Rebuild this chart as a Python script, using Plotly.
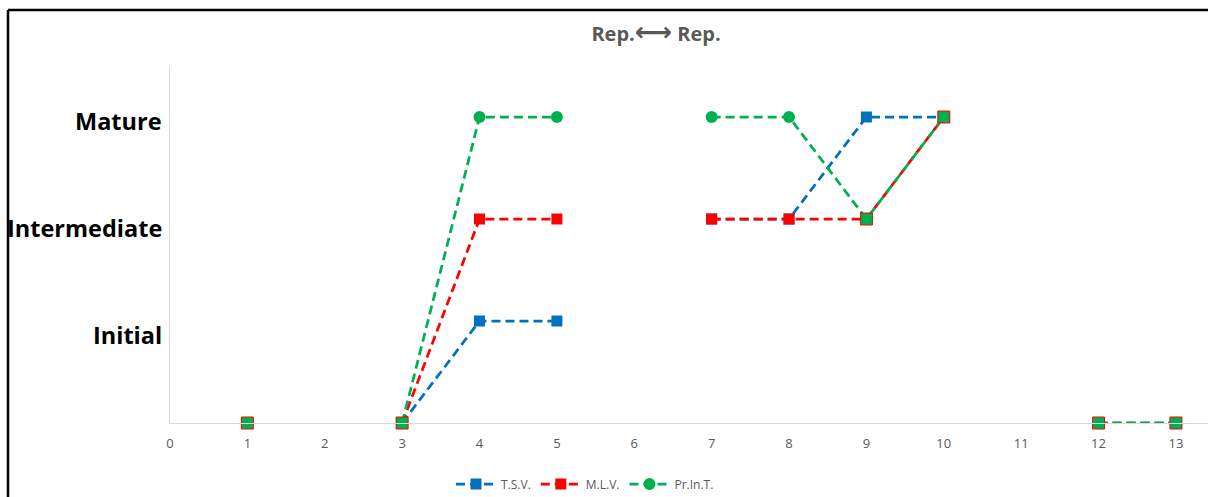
import plotly.graph_objects as go

# Positions 1..13; None marks steps with no observation (line breaks there)
x_vals = [1, 2, 3, 4, 5, 6, 7, 8, 9, 10, 11, 12, 13]
tsv = [0, None, 0, 1, 1, None, 2, 2, 3, 3, None, 0, 0]
mlv = [0, None, 0, 2, 2, None, 2, 2, 2, 3, None, 0, 0]
print_t = [0, None, 0, 3, 3, None, 3, 3, 2, 3, None, 0, 0]

level_vals = [1, 2, 3]
level_names = ["Initial", "Intermediate", "Mature"]
level_label_shift = [-14, -9, -4]   # pixel nudge of the level labels
x_ticks = list(range(0, 14))

BLUE = "#0070C0"
RED = "#FF0000"
GREEN = "#00B050"
DASH = "9px,5px"

W, H = 1208, 497
L, R, T, B = 170, 0, 66, 74
pw, ph = W - L - R, H - T - B


def px_to_paper(px, py):
    return (px - L) / pw, (H - B - py) / ph


fig = go.Figure()

fig.add_trace(go.Scatter(
    x=x_vals, y=tsv, name="T.S.V.", mode="lines+markers",
    line=dict(color=BLUE, width=2.75, dash=DASH),
    marker=dict(symbol="square", size=11, color=BLUE),
    connectgaps=False, cliponaxis=False,
))
fig.add_trace(go.Scatter(
    x=x_vals, y=mlv, name="M.L.V.", mode="lines+markers",
    line=dict(color=RED, width=2.75, dash=DASH),
    marker=dict(symbol="square", size=11, color=RED),
    connectgaps=False, cliponaxis=False,
))
fig.add_trace(go.Scatter(
    x=x_vals, y=print_t, name="Pr.In.T.", mode="lines+markers",
    line=dict(color=GREEN, width=2.75, dash=DASH),
    marker=dict(symbol="circle", size=12, color=GREEN),
    connectgaps=False, cliponaxis=False,
))

# Where Pr.In.T. coincides with M.L.V. the marker is a green square edged red
shared_x = [xv for xv, a, b in zip(x_vals, print_t, mlv) if a is not None and a == b]
shared_y = [a for a, b in zip(print_t, mlv) if a is not None and a == b]
fig.add_trace(go.Scatter(
    x=shared_x, y=shared_y, mode="markers", showlegend=False, hoverinfo="skip",
    marker=dict(symbol="square", size=12, color=GREEN, line=dict(color=RED, width=1)),
    cliponaxis=False,
))

# Level names on the left
for val, name, shift in zip(level_vals, level_names, level_label_shift):
    fig.add_annotation(
        xref="paper", x=-0.006, xanchor="right", yref="y", y=val, yshift=shift,
        text=f"<b>{name}</b>", showarrow=False,
        font=dict(size=23.5, color="black", family="Open Sans, sans-serif"),
    )

# Outer black frame (top and left edges)
x0, y0 = px_to_paper(8, 10)
x1, _ = px_to_paper(W + 5, 10)
_, y1 = px_to_paper(8, H + 5)
fig.add_shape(type="line", xref="paper", yref="paper", x0=x0, y0=y0, x1=x1, y1=y0,
              line=dict(color="black", width=2.5))
fig.add_shape(type="line", xref="paper", yref="paper", x0=x0, y0=y0, x1=x0, y1=y1,
              line=dict(color="black", width=2.5))

fig.update_layout(
    width=W, height=H,
    margin=dict(l=L, r=R, t=T, b=B),
    paper_bgcolor="white", plot_bgcolor="white",
    font=dict(family="Open Sans, sans-serif", color="#595959"),
    title=dict(
        text="<b>Rep.<span style='font-family:DejaVu Sans;font-size:26px'>\u27f7</span> Rep.</b>",
        x=656 / W, xref="container", xanchor="center",
        y=1 - 34 / H, yref="container", yanchor="middle",
        font=dict(size=20, color="#595959"),
    ),
    showlegend=True,
    legend=dict(
        orientation="h", x=585 / W, xref="container", xanchor="center",
        y=1 - 484 / H, yref="container", yanchor="middle",
        font=dict(size=12, color="#595959"),
        itemwidth=40,
    ),
    xaxis=dict(
        range=[0, pw / 77.38], tickmode="array", tickvals=x_ticks,
        ticktext=[str(v) for v in x_ticks],
        showgrid=False, zeroline=False, showline=True, linecolor="#D9D9D9",
        linewidth=1, ticks="", tickfont=dict(size=13, color="#595959"),
        ticklabelstandoff=8,
    ),
    yaxis=dict(
        range=[0, 3.5], showticklabels=False,
        showgrid=False, zeroline=False, showline=True, linecolor="#D9D9D9",
        linewidth=1, ticks="",
    ),
)

fig.write_html("out.html")
